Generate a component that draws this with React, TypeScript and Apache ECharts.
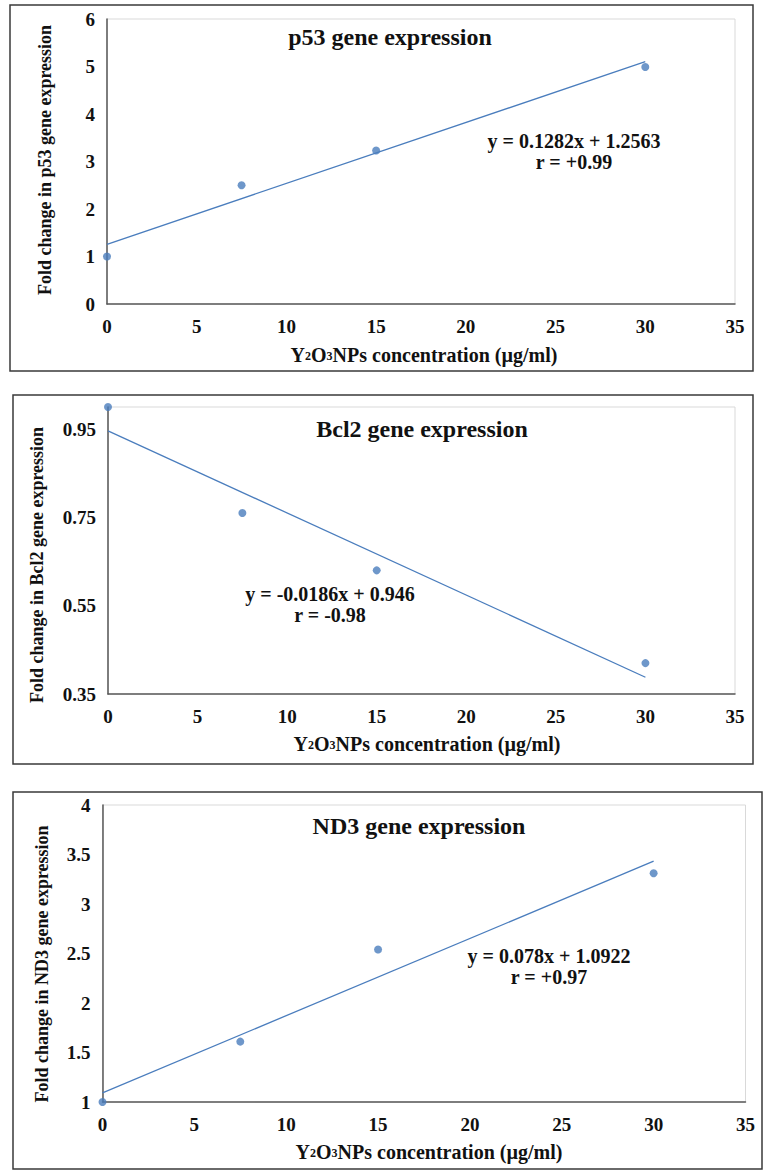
import React, { useEffect, useRef } from "react";
import * as echarts from "echarts";

// ---- data ----
const concentrations = [0, 7.5, 15, 30];
const p53Values = [1.0, 2.5, 3.23, 4.99];
const bcl2Values = [1.0, 0.76, 0.63, 0.42];
const nd3Values = [1.0, 1.61, 2.54, 3.31];

// trendline end points (x, y)
const p53Trend = [[0, 1.2563], [30, 5.1023]];
const bcl2Trend = [[0, 0.946], [30, 0.388]];
const nd3Trend = [[0, 1.0922], [30, 3.4322]];

const panelTitles = ["p53 gene expression", "Bcl2 gene expression", "ND3 gene expression"];
const yTitles = [
  "Fold change in p53 gene expression",
  "Fold change in Bcl2 gene expression",
  "Fold change in ND3 gene expression",
];
const equations = ["y = 0.1282x + 1.2563", "y = -0.0186x + 0.946", "y = 0.078x + 1.0922"];
const rTexts = ["r = +0.99", "r = -0.98", "r = +0.97"];

// axis settings
const xMin = 0, xMax = 35, xStep = 5;
const yRanges = [
  { min: 0, max: 6, interval: 1, fixed: false },
  { min: 0.35, max: 1.0, interval: 0.2, fixed: true },
  { min: 1, max: 4, interval: 0.5, fixed: false },
];

const FONT = '"Liberation Serif", "Times New Roman", serif';
const BLUE = "#4a7dbd";

export default function App() {
  const ref = useRef<HTMLDivElement>(null);

  useEffect(() => {
    if (!ref.current) return;
    const chart = echarts.init(ref.current, null, { renderer: "svg" });

    const grids = [
      { left: 107, top: 19, width: 628, height: 285 },
      { left: 108, top: 407, width: 627, height: 287 },
      { left: 102.5, top: 805, width: 643, height: 297 },
    ];
    const frames = [
      { x: 10, y: 5, width: 743, height: 366 },
      { x: 13, y: 395, width: 740, height: 369 },
      { x: 13, y: 792, width: 749, height: 377 },
    ];
    const titlePos = [[390, 37], [422, 429], [419, 826]];
    const eqPos = [[574, 141], [330, 594], [549, 956]];
    const xTitlePos = [[424, 355], [427, 744], [429, 1152]];
    const yTitlePos = [[45, 160], [37, 565], [42, 964]];
    const values = [p53Values, bcl2Values, nd3Values];
    const trends = [p53Trend, bcl2Trend, nd3Trend];

    const graphic: any[] = [];
    frames.forEach((f) => {
      graphic.push({
        type: "rect",
        shape: f,
        style: { fill: "none", stroke: "#3a3a3a", lineWidth: 1.5 },
        silent: true,
      });
    });
    for (let i = 0; i < 3; i++) {
      graphic.push({
        type: "text",
        x: titlePos[i][0],
        y: titlePos[i][1],
        style: {
          text: panelTitles[i],
          fontFamily: FONT,
          fontWeight: "bold",
          fontSize: 24,
          fill: "#111",
          align: "center",
          verticalAlign: "middle",
        },
      });
      graphic.push({
        type: "text",
        x: eqPos[i][0],
        y: eqPos[i][1],
        style: {
          text: equations[i],
          fontFamily: FONT,
          fontWeight: "bold",
          fontSize: 20,
          fill: "#111",
          align: "center",
          verticalAlign: "middle",
        },
      });
      graphic.push({
        type: "text",
        x: eqPos[i][0],
        y: eqPos[i][1] + 21,
        style: {
          text: rTexts[i],
          fontFamily: FONT,
          fontWeight: "bold",
          fontSize: 20,
          fill: "#111",
          align: "center",
          verticalAlign: "middle",
        },
      });
      graphic.push({
        type: "text",
        x: xTitlePos[i][0],
        y: xTitlePos[i][1],
        style: {
          text: "{n|Y}{s|2}{n|O}{s|3}{n|NPs concentration (µg/ml)}",
          align: "center",
          verticalAlign: "middle",
          rich: {
            n: { fontFamily: FONT, fontWeight: "bold", fontSize: 20, fill: "#111", lineHeight: 22 },
            s: {
              fontFamily: FONT,
              fontWeight: "bold",
              fontSize: 12,
              fill: "#111",
              verticalAlign: "bottom",
              lineHeight: 14,
              padding: [0, 0, 4, 0],
            },
          },
        },
      });
      graphic.push({
        type: "text",
        x: yTitlePos[i][0],
        y: yTitlePos[i][1],
        rotation: Math.PI / 2,
        style: {
          text: yTitles[i],
          fontFamily: FONT,
          fontWeight: "bold",
          fontSize: 18,
          fill: "#111",
          align: "center",
          verticalAlign: "middle",
        },
      });
    }

    const labelStyle = {
      fontFamily: FONT,
      fontWeight: "bold" as const,
      fontSize: 19,
      color: "#111",
    };

    const option: any = {
      animation: false,
      backgroundColor: "#fff",
      grid: grids.map((g) => ({
        ...g,
        containLabel: false,
        show: true,
        borderColor: "#d9d9d9",
        borderWidth: 1,
        backgroundColor: "transparent",
      })),
      xAxis: grids.map((_, i) => ({
        type: "value",
        gridIndex: i,
        min: xMin,
        max: xMax,
        interval: xStep,
        axisLine: { show: true, lineStyle: { color: "#595959", width: 1.5 } },
        axisTick: { show: false },
        splitLine: { show: false },
        axisLabel: { ...labelStyle, margin: 13 },
      })),
      yAxis: yRanges.map((r, i) => ({
        type: "value",
        gridIndex: i,
        min: r.min,
        max: r.max,
        interval: r.interval,
        axisLine: { show: true, lineStyle: { color: "#595959", width: 1.5 } },
        axisTick: { show: false },
        splitLine: { show: false },
        axisLabel: {
          ...labelStyle,
          margin: 12,
          showMaxLabel: i !== 1,
          formatter: (v: number) => (r.fixed ? v.toFixed(2) : String(Number(v.toFixed(2)))),
        },
      })),
      series: [
        ...trends.map((t, i) => ({
          type: "line",
          xAxisIndex: i,
          yAxisIndex: i,
          data: t,
          symbol: "none",
          lineStyle: { color: BLUE, width: 1.3 },
          silent: true,
          z: 2,
        })),
        ...values.map((v, i) => ({
          type: "scatter",
          xAxisIndex: i,
          yAxisIndex: i,
          data: concentrations.map((c, k) => [c, v[k]]),
          symbol: "circle",
          symbolSize: 8,
          itemStyle: { color: BLUE },
          z: 3,
        })),
      ],
      graphic,
    };

    chart.setOption(option);
    return () => chart.dispose();
  }, []);

  return (
    <div
      ref={ref}
      style={{ position: "absolute", left: 0, top: 0, width: 767, height: 1175 }}
    />
  );
}
